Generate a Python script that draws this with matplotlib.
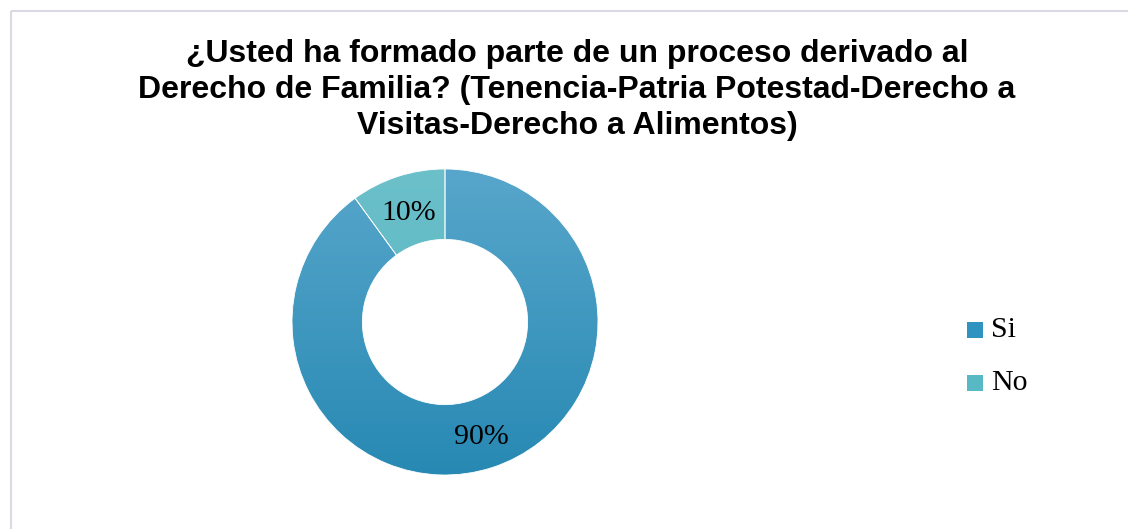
import matplotlib
matplotlib.use("Agg")
import matplotlib.pyplot as plt
import numpy as np
from matplotlib.colors import LinearSegmentedColormap
from matplotlib.patches import Rectangle

title = "¿Usted ha formado parte de un proceso derivado al\nDerecho de Familia? (Tenencia-Patria Potestad-Derecho a\nVisitas-Derecho a Alimentos)"
categories = ["Si", "No"]
values = [90, 10]
pct_labels = ["90%", "10%"]
grad_top = ["#58a6cb", "#6cc0ca"]
grad_bot = ["#2789b3", "#4db3bf"]
legend_colors = ["#2f93bf", "#56b9c4"]

W, H = 1128, 529
fig = plt.figure(figsize=(W / 100, H / 100), dpi=100)
fig.patch.set_facecolor("white")

# background frame
bg = fig.add_axes([0, 0, 1, 1])
bg.set_xlim(0, W)
bg.set_ylim(H, 0)
bg.axis("off")
bg.add_patch(Rectangle((10.5, 10.5), W + 20, H + 20, fill=False,
                       edgecolor="#d9d9e3", linewidth=1.5))

bg.text(577, 90, title, ha="center", va="center", fontsize=23,
        fontweight="bold", family="Liberation Sans", linespacing=1.28,
        color="black")

# pie axes
cx, cy, R = 445, 322, 153
ax = fig.add_axes([(cx - R) / W, (H - cy - R) / H, 2 * R / W, 2 * R / H])
wedges, _ = ax.pie(values, startangle=90, counterclock=False, radius=1,
                   wedgeprops=dict(width=0.46, edgecolor="white", linewidth=0.6))
ax.set_xlim(-1, 1)
ax.set_ylim(-1, 1)
ax.set_aspect("equal")
ax.axis("off")

grad = np.linspace(0, 1, 256).reshape(-1, 1)
for w, ct, cb in zip(wedges, grad_top, grad_bot):
    cmap = LinearSegmentedColormap.from_list("g", [cb, ct])
    im = ax.imshow(grad, extent=(-1, 1, -1, 1), origin="lower", cmap=cmap,
                   aspect="auto", zorder=1)
    im.set_clip_path(w)
    w.set_facecolor("none")
    w.set_zorder(2)

# labels at ring center
r_lab = 0.77
cum = 0
total = sum(values)
for v, lab in zip(values, pct_labels):
    mid = 90 - (cum + v / 2) / total * 360
    cum += v
    ax.text(r_lab * np.cos(np.radians(mid)), r_lab * np.sin(np.radians(mid)) - 0.02,
            lab, ha="center", va="center", fontsize=21.5,
            family="Liberation Serif", zorder=3)

# legend
ly = [330, 383]
for c, lab, y in zip(legend_colors, categories, ly):
    bg.add_patch(Rectangle((967, y - 8), 16, 16, facecolor=c, edgecolor="none"))
    bg.text(991, y, lab, ha="left", va="center", fontsize=21.5,
            family="Liberation Serif")

fig.savefig("out.png", dpi=100, facecolor="white")
